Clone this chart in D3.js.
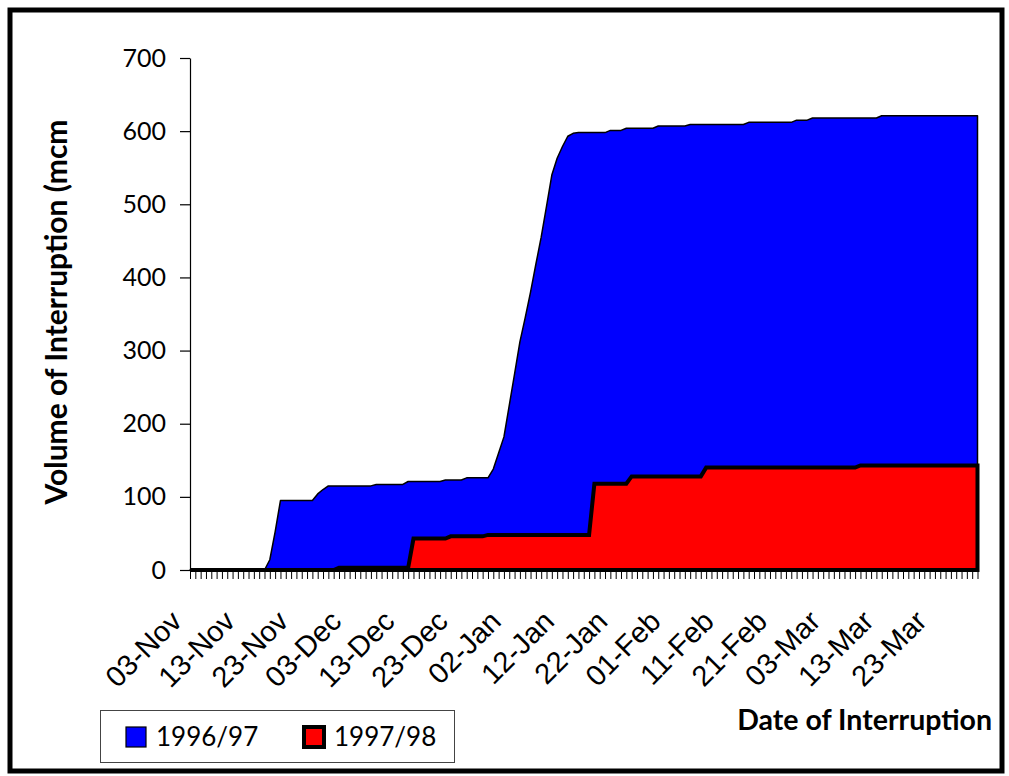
<!DOCTYPE html>
<html>
<head>
<meta charset="utf-8">
<script src="https://cdn.jsdelivr.net/npm/d3@7"></script>
<style>
  body { margin: 0; background: #fff; }
  svg { display: block; }
</style>
</head>
<body>
<svg id="chart" width="1009" height="776"></svg>
<script>
// Season labels and fills
const seriesNames = ["1996/97", "1997/98"];
const seriesFills = ["#0000ff", "#ff0000"];

// Cumulative volume of interruption (mcm), one value per day from 03-Nov to 31-Mar
const vol9697 = [
  0, 0, 0, 0, 0, 0, 0, 0, 0, 0, 0, 0, 0, 0, 0,
  14, 52,
  95, 95, 95, 95, 95, 95, 95,
  104, 110,
  115, 115, 115, 115, 115, 115, 115, 115, 115,
  117, 117, 117, 117, 117, 117,
  121, 121, 121, 121, 121, 121, 121,
  123, 123, 123, 123,
  126, 126, 126, 126, 126,
  138, 160, 182, 225, 268, 312, 345, 380, 418, 455, 497, 540, 563, 579, 593, 597,
  598, 598, 598, 598, 598, 598,
  601, 601, 601,
  604, 604, 604, 604, 604, 604,
  607, 607, 607, 607, 607, 607,
  609, 609, 609, 609, 609, 609, 609, 609, 609, 609, 609,
  612, 612, 612, 612, 612, 612, 612, 612, 612,
  615, 615, 615,
  618, 618, 618, 618, 618, 618, 618, 618, 618, 618, 618, 618, 618,
  621, 621, 621, 621, 621, 621, 621, 621, 621, 621, 621, 621, 621, 621, 621, 621, 621, 621, 621
];

const vol9798 = [
  0, 0, 0, 0, 0, 0, 0, 0, 0, 0, 0, 0, 0, 0, 0, 0, 0, 0, 0, 0, 0, 0, 0, 0, 0, 0, 0, 0,
  3, 3, 3, 3, 3, 3, 3, 3, 3, 3, 3, 3, 3, 3,
  43, 43, 43, 43, 43, 43, 43,
  46, 46, 46, 46, 46, 46, 46,
  48, 48, 48, 48, 48, 48, 48, 48, 48, 48, 48, 48, 48, 48, 48, 48, 48, 48, 48, 48,
  118, 118, 118, 118, 118, 118, 118,
  128, 128, 128, 128, 128, 128, 128, 128, 128, 128, 128, 128, 128, 128,
  140, 140, 140, 140, 140, 140, 140, 140, 140, 140, 140, 140, 140, 140, 140, 140, 140, 140, 140, 140, 140, 140, 140, 140, 140, 140, 140, 140, 140,
  143, 143, 143, 143, 143, 143, 143, 143, 143, 143, 143, 143, 143, 143, 143, 143, 143, 143, 143, 143, 143, 143, 143
];

// Axis settings
const firstDay = "1996-11-03";
const lastDay = "1997-03-31";
const labelEvery = 10;
const yTicks = [0, 100, 200, 300, 400, 500, 600, 700];
const yTitle = "Volume of Interruption (mcm";
const xTitle = "Date of Interruption";

const parse = d3.timeParse("%Y-%m-%d");
const days = d3.timeDay.range(parse(firstDay), d3.timeDay.offset(parse(lastDay), 1));
const fmt = d3.timeFormat("%d-%b");

const svg = d3.select("#chart");

const plot = { left: 190, right: 977.5, top: 58, bottom: 570 };

const x = d3.scaleTime()
  .domain([days[0], days[days.length - 1]])
  .range([plot.left, plot.right]);

const y = d3.scaleLinear()
  .domain([0, 700])
  .range([plot.bottom, plot.top]);

// outer frame
svg.append("rect")
  .attr("x", 10).attr("y", 10)
  .attr("width", 992).attr("height", 761)
  .attr("fill", "#fff")
  .attr("stroke", "#000")
  .attr("stroke-width", 5);

const area = d3.area()
  .x((d, i) => x(days[i]))
  .y0(y(0))
  .y1(d => y(d));

// 1996/97 season (behind)
svg.append("path")
  .datum(vol9697)
  .attr("d", area)
  .attr("fill", seriesFills[0])
  .attr("stroke", "#000")
  .attr("stroke-width", 1.5)
  .attr("stroke-linejoin", "round");

// 1997/98 season (front)
svg.append("path")
  .datum(vol9798)
  .attr("d", area)
  .attr("fill", seriesFills[1])
  .attr("stroke", "#000")
  .attr("stroke-width", 4)
  .attr("stroke-linejoin", "miter");

// y axis
const yAxis = svg.append("g")
  .attr("transform", `translate(${plot.left},0)`)
  .call(d3.axisLeft(y).tickValues(yTicks).tickSize(10).tickSizeOuter(0).tickPadding(14));
yAxis.select(".domain").attr("stroke", "#000").attr("stroke-width", 1.2);
yAxis.selectAll(".tick line").attr("stroke", "#000").attr("stroke-width", 1.2);
yAxis.selectAll("text")
  .attr("font-family", "Lato, 'Open Sans', sans-serif")
  .attr("font-size", 25)
  .attr("fill", "#000");

// x axis: a tick for every day, a label every ten days
const xAxis = svg.append("g")
  .attr("transform", `translate(0,${plot.bottom})`)
  .call(d3.axisBottom(x)
    .tickValues(days)
    .tickSize(9)
    .tickSizeOuter(0)
    .tickFormat((d, i) => (i % labelEvery === 0 ? fmt(d) : "")));
xAxis.select(".domain").attr("stroke", "#000").attr("stroke-width", 1.2);
xAxis.selectAll(".tick line").attr("stroke", "#000").attr("stroke-width", 1);
xAxis.selectAll(".tick text")
  .attr("font-family", "'Liberation Sans', Arial, sans-serif")
  .attr("font-size", 29)
  .attr("fill", "#000")
  .attr("text-anchor", "end")
  .attr("x", 0).attr("y", 0).attr("dy", 0)
  .attr("transform", "translate(-7,53) rotate(-45)");

// axis titles
svg.append("text")
  .attr("transform", `translate(67,312) rotate(-90)`)
  .attr("text-anchor", "middle")
  .attr("font-family", "Lato, 'Open Sans', sans-serif")
  .attr("font-weight", "bold")
  .attr("font-size", 30)
  .attr("fill", "#000")
  .text(yTitle);

svg.append("text")
  .attr("x", 992).attr("y", 730)
  .attr("text-anchor", "end")
  .attr("font-family", "Lato, 'Open Sans', sans-serif")
  .attr("font-weight", "bold")
  .attr("font-size", 28.5)
  .attr("fill", "#000")
  .text(xTitle);

// legend
const legend = svg.append("g");
legend.append("rect")
  .attr("x", 100.5).attr("y", 710.5)
  .attr("width", 354).attr("height", 52)
  .attr("fill", "#fff")
  .attr("stroke", "#444")
  .attr("stroke-width", 1);

const legendItems = [
  { name: seriesNames[0], fill: seriesFills[0], sw: 1.2, kx: 126, tx: 156 },
  { name: seriesNames[1], fill: seriesFills[1], sw: 4, kx: 304, tx: 334 }
];
legendItems.forEach(it => {
  legend.append("rect")
    .attr("x", it.kx).attr("y", 727)
    .attr("width", 20).attr("height", 20)
    .attr("fill", it.fill)
    .attr("stroke", "#000")
    .attr("stroke-width", it.sw);
  legend.append("text")
    .attr("x", it.tx).attr("y", 746)
    .attr("font-family", "Lato, 'Open Sans', sans-serif")
    .attr("font-size", 26)
    .attr("fill", "#000")
    .text(it.name);
});
</script>
</body>
</html>
